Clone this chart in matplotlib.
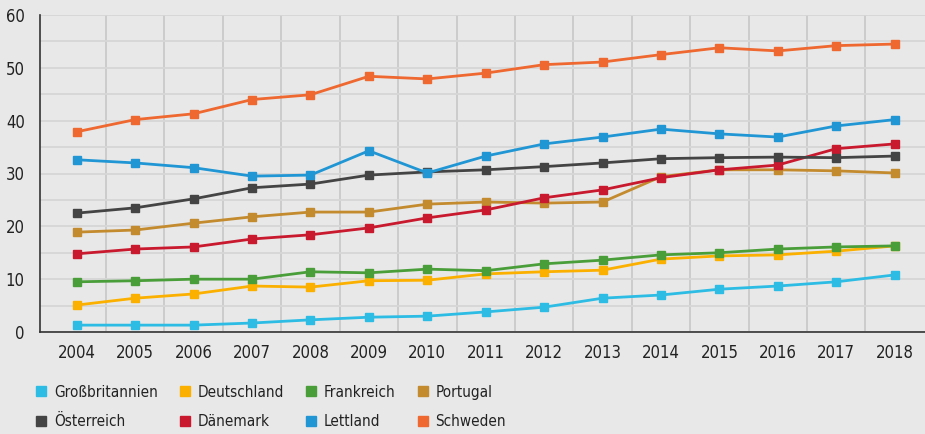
import matplotlib
matplotlib.use("Agg")
import matplotlib.pyplot as plt
from matplotlib.lines import Line2D

years = ["2004", "2005", "2006", "2007", "2008", "2009", "2010", "2011",
         "2012", "2013", "2014", "2015", "2016", "2017", "2018"]

grossbritannien = [1.3, 1.3, 1.3, 1.7, 2.3, 2.8, 3.0, 3.8, 4.7, 6.4, 7.0, 8.1, 8.7, 9.5, 10.8]
deutschland = [5.1, 6.4, 7.2, 8.7, 8.5, 9.7, 9.8, 11.0, 11.4, 11.7, 13.8, 14.4, 14.6, 15.3, 16.3]
frankreich = [9.5, 9.7, 10.0, 10.0, 11.4, 11.2, 11.9, 11.6, 12.9, 13.6, 14.6, 15.0, 15.7, 16.1, 16.3]
portugal = [18.9, 19.3, 20.6, 21.8, 22.7, 22.7, 24.2, 24.6, 24.4, 24.6, 29.4, 30.7, 30.7, 30.5, 30.1]
oesterreich = [22.5, 23.5, 25.2, 27.3, 28.0, 29.7, 30.3, 30.7, 31.3, 32.0, 32.8, 33.0, 33.1, 33.0, 33.3]
daenemark = [14.8, 15.7, 16.1, 17.6, 18.4, 19.7, 21.6, 23.1, 25.4, 26.9, 29.2, 30.7, 31.6, 34.7, 35.6]
lettland = [32.6, 32.0, 31.1, 29.5, 29.7, 34.3, 30.1, 33.3, 35.6, 36.9, 38.4, 37.5, 36.9, 39.0, 40.2]
schweden = [37.9, 40.2, 41.3, 44.0, 44.9, 48.4, 47.9, 49.0, 50.6, 51.1, 52.5, 53.8, 53.2, 54.2, 54.5]

names = ["Großbritannien", "Deutschland", "Frankreich", "Portugal",
         "Österreich", "Dänemark", "Lettland", "Schweden"]
series = [grossbritannien, deutschland, frankreich, portugal,
          oesterreich, daenemark, lettland, schweden]
colors = ["#2dbce4", "#fbb000", "#4a9e3a", "#c48a2e",
          "#444444", "#c8192e", "#2196d4", "#ee6830"]

plt.rcParams['font.family'] = ['DejaVu Sans']
plt.rcParams['font.stretch'] = 'condensed'

bg = "#e8e8e8"
fig = plt.figure(figsize=(9.25, 4.34), dpi=100, facecolor=bg)
ax = fig.add_axes([40/925, 1-332/434, 1-40/925, (332-15)/434])
ax.set_facecolor(bg)

x = list(range(len(years)))
draw_order = [0, 1, 2, 3, 5, 4, 6, 7]
for i in draw_order:
    ax.plot(x, series[i], color=colors[i], lw=2.0, marker='s', markersize=6.2,
            zorder=3)

ax.set_xlim(-0.63, 14.52)
ax.set_ylim(0, 60)
ax.set_yticks([0, 10, 20, 30, 40, 50, 60])
ax.set_yticks([5, 15, 25, 35, 45, 55], minor=True)
ax.set_xticks(x)
ax.set_xticklabels(years)
ax.set_xticks([i + 0.5 for i in range(14)], minor=True)

ax.grid(True, which='both', axis='y', color='#d6d6d6', lw=1.3, zorder=0)
ax.grid(True, which='minor', axis='x', color='#cacaca', lw=1.3, zorder=0)
ax.grid(False, which='major', axis='x')

ax.tick_params(axis='both', which='both', length=0, labelsize=12, colors='#222222')
ax.tick_params(axis='x', pad=9)
ax.tick_params(axis='y', pad=11)

for s in ['top', 'right']:
    ax.spines[s].set_visible(False)
for s in ['left', 'bottom']:
    ax.spines[s].set_color('#333333')
    ax.spines[s].set_linewidth(1.2)

order = [0, 4, 1, 5, 2, 6, 3, 7]
handles = [Line2D([], [], ls='none', marker='s', markersize=7.5,
                  markerfacecolor=colors[i], markeredgecolor=colors[i]) for i in order]
labels = [names[i] for i in order]
fig.legend(handles, labels, ncol=4, loc='upper left',
           bbox_to_anchor=(22/925, 1-371/434), frameon=False,
           fontsize=11, handlelength=0.75, handletextpad=0.45,
           columnspacing=1.4, labelspacing=0.95, labelcolor='#222222')

fig.savefig("out.png", dpi=100, facecolor=bg)
